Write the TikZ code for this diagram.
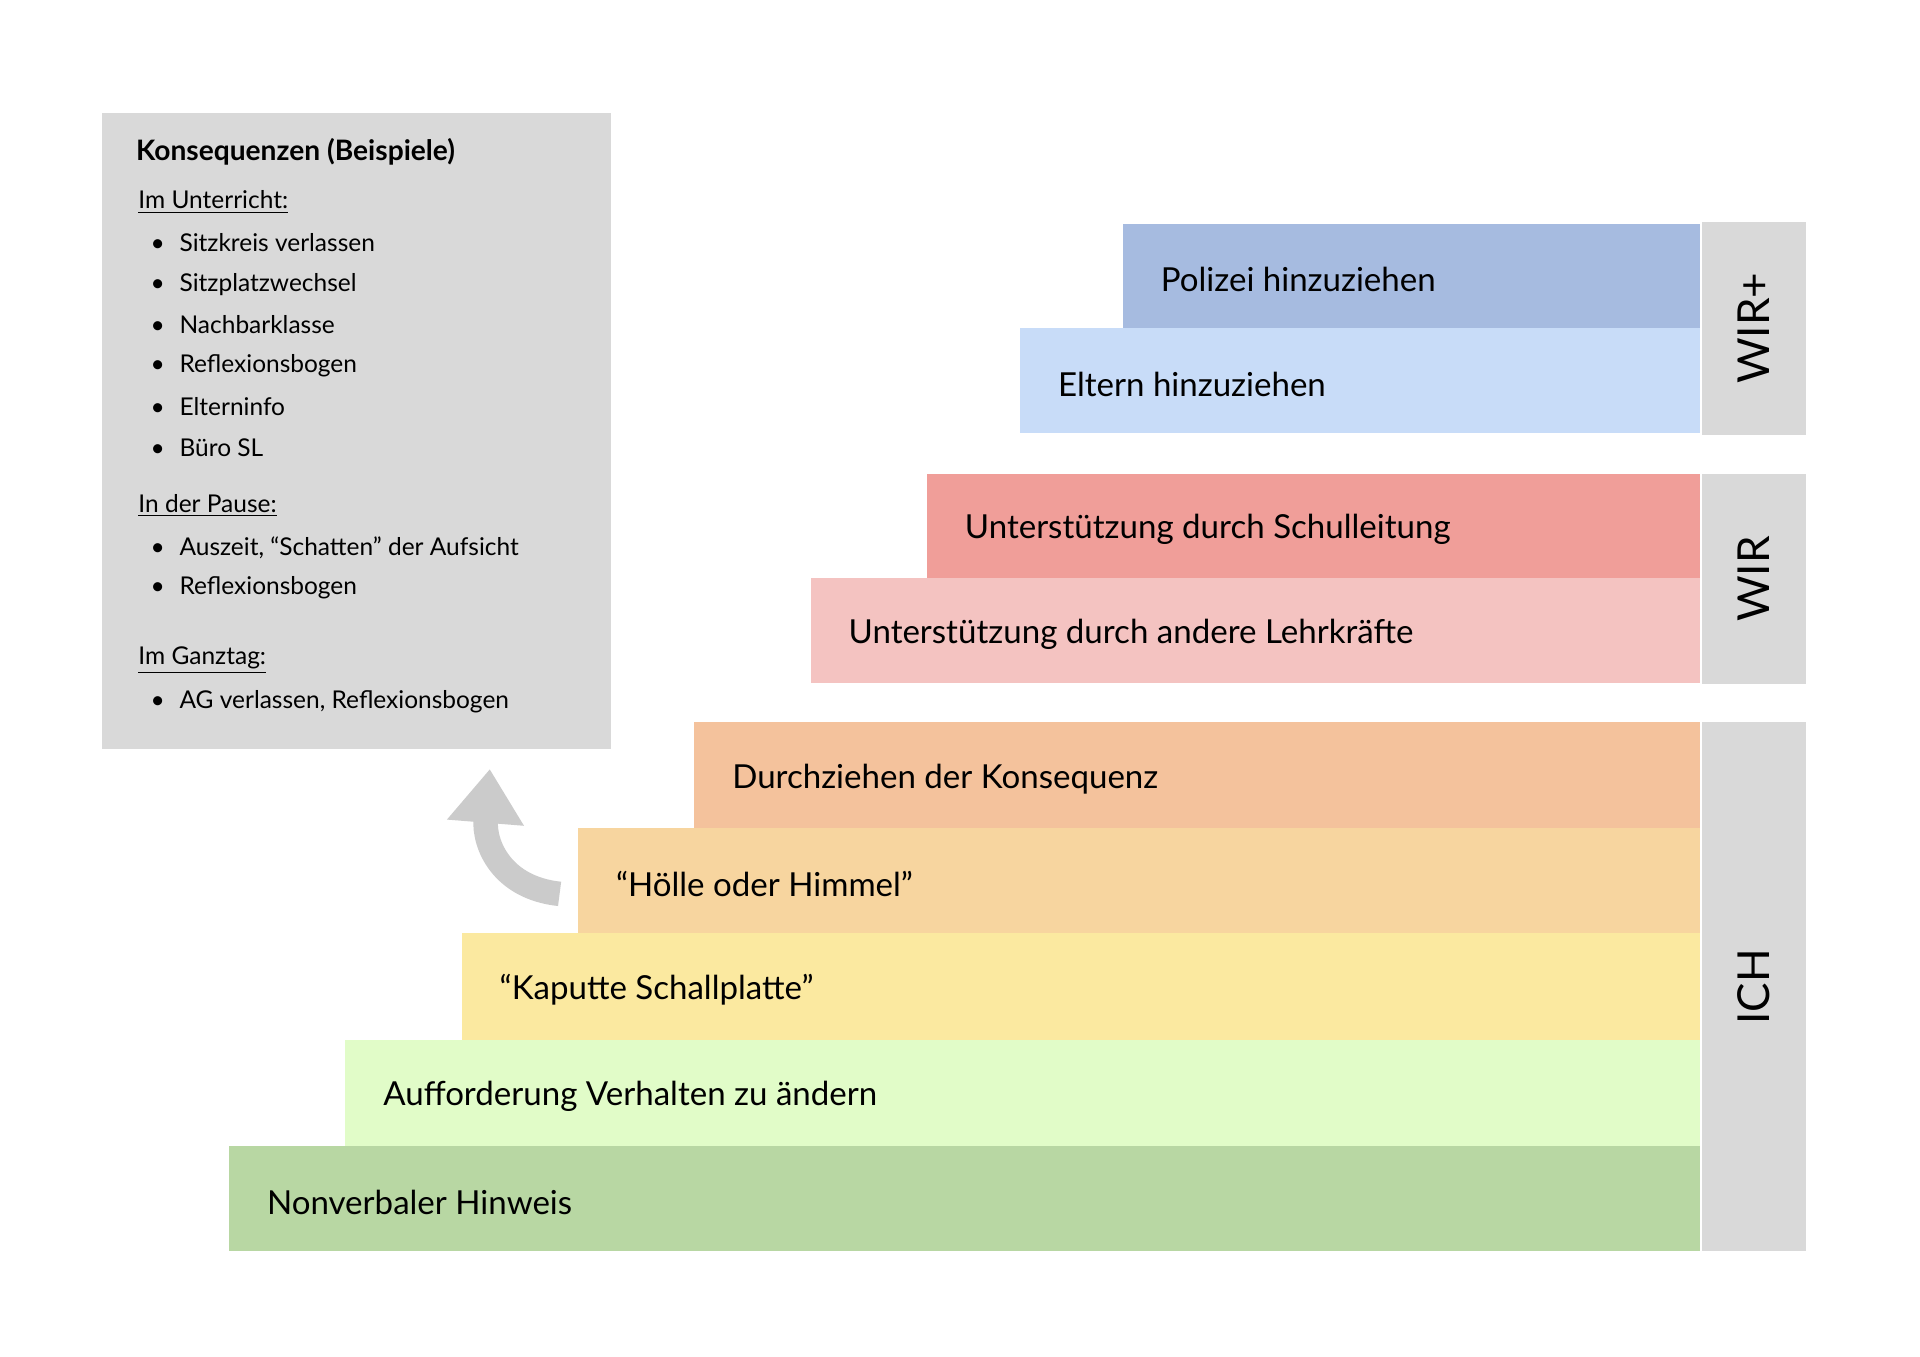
\documentclass[tikz,border=0pt]{standalone}
\usepackage{fontspec}
\setmainfont{Lato}
\usetikzlibrary{arrows.meta}
\definecolor{boxgray}{HTML}{D9D9D9}
\definecolor{cPol}{HTML}{A6BBE0}
\definecolor{cElt}{HTML}{C8DCF8}
\definecolor{cSL}{HTML}{F09E99}
\definecolor{cLK}{HTML}{F4C3C1}
\definecolor{cDur}{HTML}{F4C29C}
\definecolor{cHoe}{HTML}{F7D59F}
\definecolor{cKap}{HTML}{FBE9A0}
\definecolor{cAuf}{HTML}{E1FCC8}
\definecolor{cNon}{HTML}{B8D7A3}
\tikzset{
  stepl/.style={anchor=west,font=\fontsize{13.5}{16}\selectfont},
  side/.style={rotate=90,font=\fontsize{18}{20}\selectfont},
  item/.style={anchor=west,font=\fontsize{10}{12}\selectfont},
  head/.style={anchor=west,font=\fontsize{10}{12}\selectfont},
}
\begin{document}
\begin{tikzpicture}[x=0.5pt,y=-0.5pt]
\useasboundingbox (0,0) rectangle (1568,1108);
\fill[white] (0,0) rectangle (1568,1108);
%% box
\fill[boxgray] (83,92) rectangle (499,612);
\node[head,font=\bfseries\fontsize{11.5}{13}\selectfont] (title) at (104,124) {Konsequenzen (Beispiele)};
\node[head] (unt) at (106,165) {\underline{Im Unterricht:}};
\foreach \t/\y [count=\i] in {Sitzkreis verlassen/198,Sitzplatzwechsel/232,Nachbarklasse/265,Reflexionsbogen/299,Elterninfo/332,Büro SL/366,
  {Auszeit, “Schatten” der Aufsicht}/447,Reflexionsbogen/480,{AG verlassen, Reflexionsbogen}/573}
  \node[item] (it\i) at (116,\y) {\textbullet\hspace{6pt}\t};
\node[head] (pause) at (106,413) {\underline{In der Pause:}};
\node[head] (ganz) at (106,539) {\underline{Im Ganztag:}};
%% steps
\foreach \x/\ya/\yb/\c/\t [count=\i] in {
  917/183/268/cPol/Polizei hinzuziehen,
  833/268/354/cElt/Eltern hinzuziehen,
  757/387/472/cSL/Unterstützung durch Schulleitung,
  662/472/558/cLK/Unterstützung durch andere Lehrkräfte,
  567/590/676/cDur/Durchziehen der Konsequenz,
  472/676/762/cHoe/“Hölle oder Himmel”,
  377/762/849/cKap/“Kaputte Schallplatte”,
  282/849/936/cAuf/Aufforderung Verhalten zu ändern,
  187/936/1022/cNon/Nonverbaler Hinweis}
{
  \fill[\c] (\x,\ya) rectangle (1388,\yb);
  \node[stepl] (s\i) at (\x+24,{(\ya+\yb)/2+3}) {\t};
}
%% levels
\fill[boxgray] (1390,181) rectangle (1475,355);
\fill[boxgray] (1390,387) rectangle (1475,559);
\fill[boxgray] (1390,590) rectangle (1475,1022);
\node[side] (wirp) at (1432,268) {WIR+};
\node[side] (wir) at (1432,473) {WIR};
\node[side] (ich) at (1432,806) {ICH};
%% arrow
\coordinate (aS) at (457,730);
\coordinate (aE) at (400,628);
\draw[boxgray!85!gray,line width=10pt,-{Triangle[length=22pt,width=30pt]}]
  (aS) .. controls (410,725) and (395,690) .. (aE);
\end{tikzpicture}
\end{document}
